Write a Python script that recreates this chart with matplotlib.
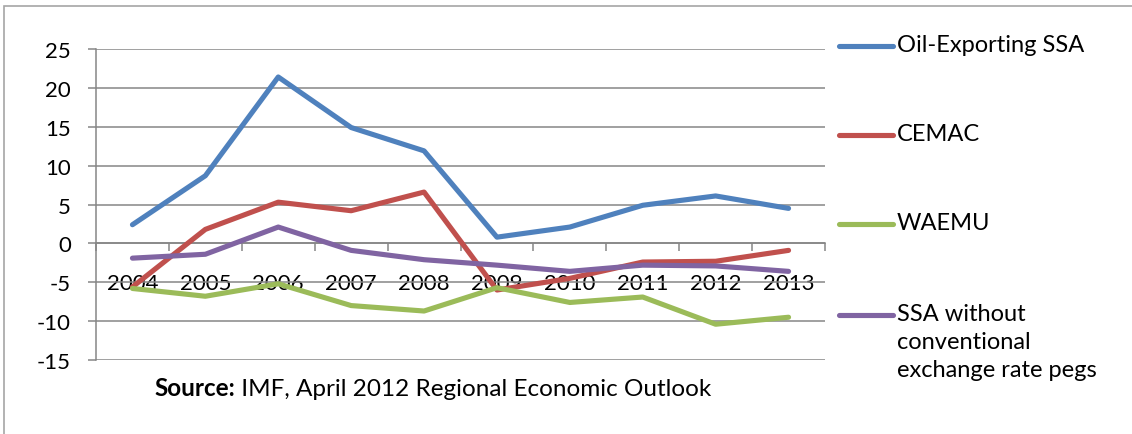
import matplotlib
matplotlib.use('Agg')
import matplotlib.pyplot as plt
from matplotlib.lines import Line2D
from matplotlib.patches import Rectangle

plt.rcParams['font.family'] = ['Lato', 'DejaVu Sans']
plt.rcParams['font.size'] = 17
plt.rcParams['axes.unicode_minus'] = False

years = ['2004', '2005', '2006', '2007', '2008', '2009', '2010', '2011', '2012', '2013']
oil_ssa = [2.4, 8.7, 21.4, 14.9, 11.9, 0.8, 2.1, 4.9, 6.1, 4.5]
cemac = [-5.6, 1.8, 5.3, 4.2, 6.6, -6.0, -4.5, -2.4, -2.3, -0.9]
waemu = [-5.8, -6.8, -5.2, -8.0, -8.7, -5.7, -7.6, -6.9, -10.4, -9.5]
ssa_no_peg = [-1.9, -1.4, 2.1, -0.9, -2.1, -2.8, -3.6, -2.8, -2.9, -3.6]

labels = ['Oil-Exporting SSA', 'CEMAC', 'WAEMU',
          'SSA without\nconventional\nexchange rate pegs']
colors = ['#4F81BD', '#C0504D', '#9BBB59', '#8064A2']
yticks = list(range(-15, 30, 5))

W, H = 1132, 435
fig = plt.figure(figsize=(W / 100, H / 100), dpi=100)
ax = fig.add_axes([96 / W, 1 - 361 / H, (825 - 96) / W, (361 - 50) / H])

grid_c = '#868686'
x = [i + 0.5 for i in range(len(years))]
for s, c in zip([oil_ssa, cemac, waemu, ssa_no_peg], colors):
    ax.plot(x, s, color=c, lw=3.7, solid_capstyle='round', solid_joinstyle='round', zorder=3)

ax.set_xlim(0, len(years))
ax.set_ylim(-15, 25)
ax.set_yticks(yticks)
ax.yaxis.grid(True, color=grid_c, lw=1.1)
ax.set_axisbelow(True)

for side in ['top', 'right']:
    ax.spines[side].set_visible(False)
ax.spines['left'].set_color(grid_c)
ax.spines['left'].set_linewidth(1.1)
ax.spines['bottom'].set_position(('data', 0))
ax.spines['bottom'].set_color(grid_c)
ax.spines['bottom'].set_linewidth(1.1)

ax.set_xticks(range(len(years) + 1))
ax.set_xticklabels([])
ax.set_xticks(x, minor=True)
ax.set_xticklabels(years, minor=True, fontsize=16)
ax.tick_params(axis='x', which='major', direction='out', length=6, width=1.1, color=grid_c)
ax.tick_params(axis='x', which='minor', length=0, pad=21)
ax.tick_params(axis='y', direction='out', length=6, width=1.1, color=grid_c, pad=12,
               labelsize=16)

# source note under the plot
src = fig.text(154 / W, 1 - 388 / H, 'Source:', weight='bold', va='center', ha='left',
               fontsize=17.5)
ax.annotate(' IMF, April 2012 Regional Economic Outlook', xy=(1, 0), xycoords=src,
            va='bottom', ha='left', fontsize=17.5)

# legend on the right, handle aligned with first line of each label
leg_y = [47, 136, 225, 316]
for lab, c, yy in zip(labels, colors, leg_y):
    fy = 1 - yy / H
    fig.add_artist(Line2D([839 / W, 893 / W], [fy, fy], color=c, lw=3.7,
                          solid_capstyle='round'))
    fig.text(897 / W, fy + 12 / H, lab, va='top', ha='left', linespacing=1.4)

# chart frame (cropped at the right and bottom)
fig.add_artist(Rectangle((4 / W, -0.2), 1.2, 1 - 7 / H + 0.2, transform=fig.transFigure,
                         fill=False, edgecolor='#A6A6A6', lw=1.2))

fig.savefig('out.png', dpi=100)
